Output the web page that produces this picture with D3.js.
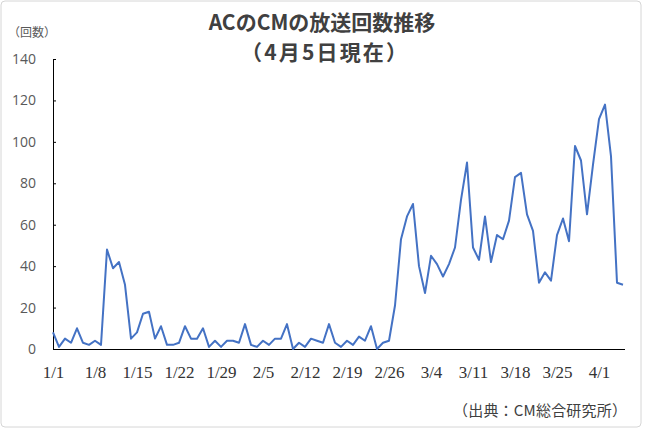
<!DOCTYPE html>
<html>
<head>
<meta charset="utf-8">
<script src="https://cdn.jsdelivr.net/npm/d3@7"></script>
<style>
  body { margin: 0; background: #fff; }
  svg { display: block; }
</style>
</head>
<body>
<div id="chart"></div>
<script>
// daily AC commercial broadcasts, 2020-01-01 .. 2020-04-05
var counts = [
  8, 1, 5, 3, 10, 3, 2, 4, 2, 48, 39, 42, 31, 5,
  8, 17, 18, 5, 11, 2, 2, 3, 11, 5, 5, 10, 1, 4,
  1, 4, 4, 3, 12, 2, 1, 4, 2, 5, 5, 12, 0, 3,
  1, 5, 4, 3, 12, 3, 1, 4, 2, 6, 4, 11, 0, 3,
  4, 21, 53, 64, 70, 40, 27, 45, 41, 35, 41, 49, 72, 90,
  49, 43, 64, 42, 55, 53, 62, 83, 85, 65, 57, 32, 37, 33,
  55, 63, 52, 98, 91, 65, 89, 111, 118, 93, 32, 31
];
var xTickLabels = ["1/1", "1/8", "1/15", "1/22", "1/29", "2/5", "2/12", "2/19", "2/26", "3/4", "3/11", "3/18", "3/25", "4/1"];
var yTicks = [0, 20, 40, 60, 80, 100, 120, 140];

var fmt = d3.timeFormat("%-m/%-d");
var days = d3.timeDay.range(new Date(2020, 0, 1), new Date(2020, 3, 6)).map(fmt);

var width = 645, height = 430;
var svg = d3.select("#chart").append("svg").attr("width", width).attr("height", height);

svg.append("rect")
   .attr("x", 1).attr("y", 1).attr("width", 640).attr("height", 426)
   .attr("rx", 4)
   .style("fill", "#fff").style("stroke", "#d6d6d6");

var x = d3.scalePoint().domain(days).range([53, 623]);
var y = d3.scaleLinear().domain([0, 140]).range([349, 59]);

// title
var title = svg.append("text")
   .attr("text-anchor", "middle")
   .style("font-family", "'Noto Sans CJK JP', sans-serif")
   .style("font-weight", "bold")
   .style("font-size", "21px")
   .style("fill", "#404040");
title.append("tspan").attr("x", 322).attr("y", 30).text("ACのCMの放送回数推移");
title.append("tspan").attr("x", 324).attr("y", 60)
   .attr("textLength", 166).attr("lengthAdjust", "spacing")
   .text("（4月5日現在）");

svg.append("text")
   .attr("x", 32).attr("y", 37)
   .attr("text-anchor", "middle")
   .style("font-family", "'Noto Sans CJK JP', sans-serif")
   .style("font-size", "12px")
   .style("fill", "#595959")
   .text("（回数）");

// y axis
var yAxis = svg.append("g")
   .attr("transform", "translate(53,0)")
   .call(d3.axisLeft(y).tickValues(yTicks).tickSizeInner(-3).tickSizeOuter(0).tickPadding(17));
yAxis.select(".domain").style("stroke", "#000");
yAxis.selectAll(".tick line").style("stroke", "#000");
yAxis.selectAll("text")
   .style("font-family", "'Open Sans', 'Liberation Sans', sans-serif")
   .style("font-size", "14px")
   .style("fill", "#595959");

// x axis
var xAxis = svg.append("g")
   .attr("transform", "translate(0,349)")
   .call(d3.axisBottom(x).tickValues(xTickLabels).tickSize(0).tickPadding(17));
xAxis.select(".domain").attr("d", "M53,0.5H625").style("stroke", "#000");
xAxis.selectAll("text")
   .style("font-family", "'Liberation Serif', 'DejaVu Serif', serif")
   .style("font-size", "17px")
   .style("fill", "#333");

// line
var line = d3.line()
   .x(function(d, i) { return x(days[i]); })
   .y(function(d) { return y(d); });

svg.append("path")
   .datum(counts)
   .attr("d", line)
   .style("fill", "none")
   .style("stroke", "#4472C4")
   .style("stroke-width", 2)
   .style("stroke-linejoin", "round");

svg.append("text")
   .attr("x", 627).attr("y", 416)
   .attr("text-anchor", "end")
   .attr("textLength", 174).attr("lengthAdjust", "spacing")
   .style("font-family", "'Noto Sans CJK JP', sans-serif")
   .style("font-size", "15px")
   .style("fill", "#404040")
   .text("（出典：CM総合研究所）");
</script>
</body>
</html>
